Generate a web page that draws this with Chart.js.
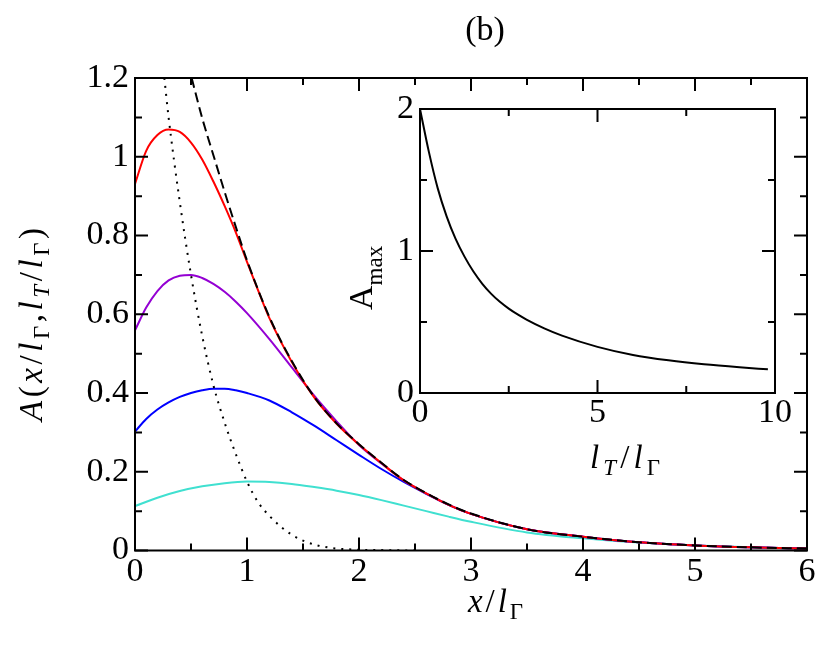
<!DOCTYPE html>
<html><head><meta charset="utf-8">
<script src="https://cdn.jsdelivr.net/npm/chart.js@4.4.0/dist/chart.umd.min.js"></script>
<style>
html,body{margin:0;padding:0;background:#fff;}
#wrap{position:relative;width:830px;height:657px;background:#fff;}
canvas{position:absolute;left:0;top:0;}
</style></head><body>
<div id="wrap"><canvas id="main" width="830" height="657"></canvas><canvas id="inset" width="830" height="657"></canvas></div>
<script>
// ---------- data ----------
const dashedX = [0.506, 0.6, 0.7, 0.8, 0.9, 1.0, 1.2, 1.4, 1.6, 1.8, 2.0, 2.2, 2.4, 2.6, 2.8, 3.0, 3.5, 4.0, 4.5, 5.0, 5.5, 6.0];
const dashedY = [1.2, 1.098, 1.004, 0.911, 0.822, 0.737, 0.593, 0.481, 0.390, 0.323, 0.270, 0.223, 0.179, 0.146, 0.117, 0.094, 0.054, 0.035, 0.021, 0.013, 0.008, 0.005];

const dottedX = [0.262, 0.3, 0.4, 0.5, 0.6, 0.7, 0.8, 0.9, 1.0, 1.1, 1.2, 1.3, 1.4, 1.5, 1.6, 1.7, 1.8, 2.0, 2.2, 2.5];
const dottedY = [1.2, 1.10, 0.885, 0.70, 0.545, 0.42, 0.325, 0.245, 0.175, 0.122, 0.088, 0.061, 0.040, 0.025, 0.015, 0.009, 0.005, 0.002, 0.001, 0];

const redX = [0, 0.1, 0.2, 0.3, 0.4, 0.5, 0.6, 0.7, 0.8, 0.9, 1.0, 1.1, 1.2, 1.4, 1.6, 1.8, 2.0, 2.2, 2.4, 2.6, 2.8, 3.0, 3.5, 4.0, 4.5, 5.0, 5.5, 6.0];
const redY = [0.931, 1.015, 1.055, 1.069, 1.063, 1.036, 0.993, 0.937, 0.875, 0.808, 0.733, 0.660, 0.590, 0.479, 0.389, 0.322, 0.269, 0.222, 0.178, 0.145, 0.116, 0.093, 0.054, 0.035, 0.021, 0.013, 0.008, 0.005];

const purpleX = [0, 0.1, 0.2, 0.3, 0.4, 0.5, 0.6, 0.7, 0.8, 0.9, 1.0, 1.2, 1.4, 1.6, 1.8, 2.0, 2.2, 2.4, 2.6, 2.8, 3.0, 3.5, 4.0, 4.5, 5.0, 5.5, 6.0];
const purpleY = [0.559, 0.617, 0.659, 0.686, 0.698, 0.700, 0.692, 0.677, 0.657, 0.632, 0.603, 0.537, 0.465, 0.393, 0.328, 0.268, 0.221, 0.178, 0.145, 0.116, 0.093, 0.054, 0.035, 0.021, 0.013, 0.008, 0.005];

const blueX = [0, 0.1, 0.2, 0.3, 0.4, 0.5, 0.6, 0.7, 0.8, 0.9, 1.0, 1.2, 1.4, 1.6, 1.8, 2.0, 2.2, 2.4, 2.6, 2.8, 3.0, 3.5, 4.0, 4.5, 5.0, 5.5, 6.0];
const blueY = [0.302, 0.334, 0.358, 0.376, 0.390, 0.400, 0.407, 0.411, 0.411, 0.407, 0.400, 0.381, 0.351, 0.317, 0.280, 0.243, 0.207, 0.174, 0.144, 0.116, 0.093, 0.054, 0.035, 0.021, 0.013, 0.008, 0.005];

const cyanX = [0, 0.2, 0.4, 0.6, 0.8, 1.0, 1.2, 1.4, 1.6, 1.8, 2.0, 2.2, 2.4, 2.6, 2.8, 3.0, 3.5, 4.0, 4.5, 5.0, 5.5, 6.0];
const cyanY = [0.113, 0.134, 0.151, 0.163, 0.171, 0.175, 0.174, 0.169, 0.161, 0.152, 0.141, 0.128, 0.114, 0.100, 0.086, 0.073, 0.046, 0.031, 0.020, 0.013, 0.008, 0.005];

const insetX = [0, 0.25, 0.5, 0.75, 1.0, 1.25, 1.5, 1.75, 2.0, 2.25, 2.5, 2.75, 3.0, 3.5, 4.0, 5.0, 6.0, 7.0, 8.0, 9.0, 9.8];
const insetY = [2.0, 1.698, 1.441, 1.244, 1.087, 0.962, 0.857, 0.771, 0.700, 0.642, 0.594, 0.553, 0.517, 0.455, 0.404, 0.325, 0.268, 0.230, 0.202, 0.181, 0.167];

// tick values / labels
const mainXTicks = [0, 1, 2, 3, 4, 5, 6];
const mainXTickLabels = ['0', '1', '2', '3', '4', '5', '6'];
const mainXMinor = [0.5, 1.5, 2.5, 3.5, 4.5, 5.5];
const mainYTicks = [0, 0.2, 0.4, 0.6, 0.8, 1.0, 1.2];
const mainYTickLabels = ['0', '0.2', '0.4', '0.6', '0.8', '1', '1.2'];
const mainYMinor = [0.1, 0.3, 0.5, 0.7, 0.9, 1.1];
const insetXTicks = [0, 5, 10];
const insetXTickLabels = ['0', '5', '10'];
const insetXMinor = [2.5, 7.5];
const insetYTicks = [0, 1, 2];
const insetYTickLabels = ['0', '1', '2'];
const insetYMinor = [0.5, 1.5];

// ---------- helpers ----------
const FAM = '"Liberation Serif", "DejaVu Serif", serif';
const pts = (xs, ys) => xs.map((x, i) => ({x: x, y: ys[i]}));

function drawRich(ctx, parts, x, y, opts) {
  const size = opts.size;
  const fontFor = p => (p.i ? 'italic ' : '') + (p.sub ? Math.round(size * (opts.subScale || 0.7)) : size) + 'px ' + FAM;
  const widths = parts.map(p => { ctx.font = fontFor(p); return ctx.measureText(p.t).width; });
  const total = widths.reduce((a, b) => a + b, 0);
  const gap = opts.width ? (opts.width - total) / (parts.length - 1) : 0;
  ctx.save();
  ctx.translate(x, y);
  if (opts.rotate) ctx.rotate(opts.rotate);
  ctx.textBaseline = 'alphabetic';
  ctx.textAlign = 'left';
  ctx.fillStyle = '#000';
  let cx = 0;
  parts.forEach((p, k) => {
    ctx.font = fontFor(p);
    ctx.fillText(p.t, cx, p.sub ? size * (opts.subDrop || 0.22) : 0);
    cx += widths[k] + gap;
  });
  ctx.restore();
}

function frameTicks(cfg) {
  return {
    id: 'frameTicks',
    afterDatasetsDraw(chart) {
      const ctx = chart.ctx, a = chart.chartArea, xs = chart.scales.x, ys = chart.scales.y;
      ctx.save();
      ctx.strokeStyle = '#000';
      ctx.lineWidth = 2;
      ctx.lineCap = 'butt';
      ctx.beginPath();
      const vx = (vals, len) => vals.forEach(v => {
        const p = xs.getPixelForValue(v);
        ctx.moveTo(p, a.bottom); ctx.lineTo(p, a.bottom - len);
        ctx.moveTo(p, a.top); ctx.lineTo(p, a.top + len);
      });
      const vy = (vals, len) => vals.forEach(v => {
        const p = ys.getPixelForValue(v);
        ctx.moveTo(a.left, p); ctx.lineTo(a.left + len, p);
        ctx.moveTo(a.right, p); ctx.lineTo(a.right - len, p);
      });
      vx(cfg.xMajor, 13); vx(cfg.xMinor, 7);
      vy(cfg.yMajor, 13); vy(cfg.yMinor, 7);
      ctx.stroke();
      ctx.strokeRect(a.left, a.top, a.right - a.left, a.bottom - a.top);
      ctx.restore();
    }
  };
}

function axisScale(min, max, vals, labels, pad, extra) {
  return Object.assign({
    type: 'linear', min: min, max: max,
    grid: {display: false, drawTicks: false},
    border: {display: false},
    afterBuildTicks: s => { s.ticks = vals.map(v => ({value: v})); },
    ticks: {
      autoSkip: false, maxRotation: 0, color: '#000', padding: pad,
      font: {family: FAM, size: 34},
      callback: (v, i) => labels[i]
    }
  }, extra);
}

// ---------- main chart ----------
const line = (data, color, extra) => Object.assign({
  data: data, borderColor: color, borderWidth: 2, pointRadius: 0,
  fill: false, cubicInterpolationMode: 'monotone'
}, extra || {});

const mainLabels = {
  id: 'mainLabels',
  afterDraw(chart) {
    const ctx = chart.ctx;
    ctx.save();
    ctx.font = '34px ' + FAM; ctx.fillStyle = '#000';
    ctx.textAlign = 'center'; ctx.textBaseline = 'alphabetic';
    ctx.fillText('(b)', 485, 40);
    ctx.restore();
    drawRich(ctx, [{t: 'x', i: true}, {t: '/'}, {t: 'l', i: true}, {t: 'Γ', sub: true}],
      468, 612, {size: 33, width: 55});
    drawRich(ctx, [{t: 'A', i: true}, {t: '('}, {t: 'x', i: true}, {t: '/'}, {t: 'l', i: true}, {t: 'Γ', sub: true},
      {t: ','}, {t: 'l', i: true}, {t: 'T', i: true, sub: true}, {t: '/'}, {t: 'l', i: true}, {t: 'Γ', sub: true}, {t: ')'}],
      42, 421, {size: 33, width: 193, rotate: -Math.PI / 2});
  }
};

new Chart(document.getElementById('main'), {
  type: 'line',
  data: {
    datasets: [
      line(pts(dashedX, dashedY), '#000000', {borderDash: [10, 5]}),
      line(pts(dottedX, dottedY), '#000000', {borderDash: [2, 6]}),
      line(pts(redX, redY), '#ff0000'),
      line(pts(purpleX, purpleY), '#9400d3'),
      line(pts(blueX, blueY), '#0000ff'),
      line(pts(cyanX, cyanY), '#40e0d0')
    ]
  },
  options: {
    responsive: false, animation: false, events: [],
    layout: {padding: {left: 0, top: 78, right: 23, bottom: 0}},
    plugins: {legend: {display: false}, tooltip: {enabled: false}, title: {display: false}},
    scales: {
      x: axisScale(0, 6, mainXTicks, mainXTickLabels, 1, {afterFit: s => { s.height = 106.5; }}),
      y: axisScale(0, 1.2, mainYTicks, mainYTickLabels, 6, {afterFit: s => { s.width = 135; }})
    }
  },
  plugins: [frameTicks({xMajor: mainXTicks, xMinor: mainXMinor, yMajor: mainYTicks, yMinor: mainYMinor}), mainLabels]
});

// ---------- inset chart ----------
const insetLabels = {
  id: 'insetLabels',
  afterDraw(chart) {
    const ctx = chart.ctx;
    drawRich(ctx, [{t: 'l', i: true}, {t: 'T', i: true, sub: true}, {t: '/'}, {t: 'l', i: true}, {t: 'Γ', sub: true}],
      590, 468, {size: 33, width: 70});
    drawRich(ctx, [{t: 'A'}, {t: 'max', sub: true}],
      372, 310, {size: 34, subScale: 0.68, subDrop: 0.28, rotate: -Math.PI / 2});
  }
};

new Chart(document.getElementById('inset'), {
  type: 'line',
  data: {datasets: [line(pts(insetX, insetY), '#000000')]},
  options: {
    responsive: false, animation: false, events: [],
    layout: {padding: {left: 0, top: 109, right: 55, bottom: 0}},
    plugins: {legend: {display: false}, tooltip: {enabled: false}},
    scales: {
      x: axisScale(0, 10, insetXTicks, insetXTickLabels, 0, {afterFit: s => { s.height = 264; }}),
      y: axisScale(0, 2, insetYTicks, insetYTickLabels, 6, {afterFit: s => { s.width = 420; }})
    }
  },
  plugins: [frameTicks({xMajor: insetXTicks, xMinor: insetXMinor, yMajor: insetYTicks, yMinor: insetYMinor}), insetLabels]
});
</script>
</body></html>
